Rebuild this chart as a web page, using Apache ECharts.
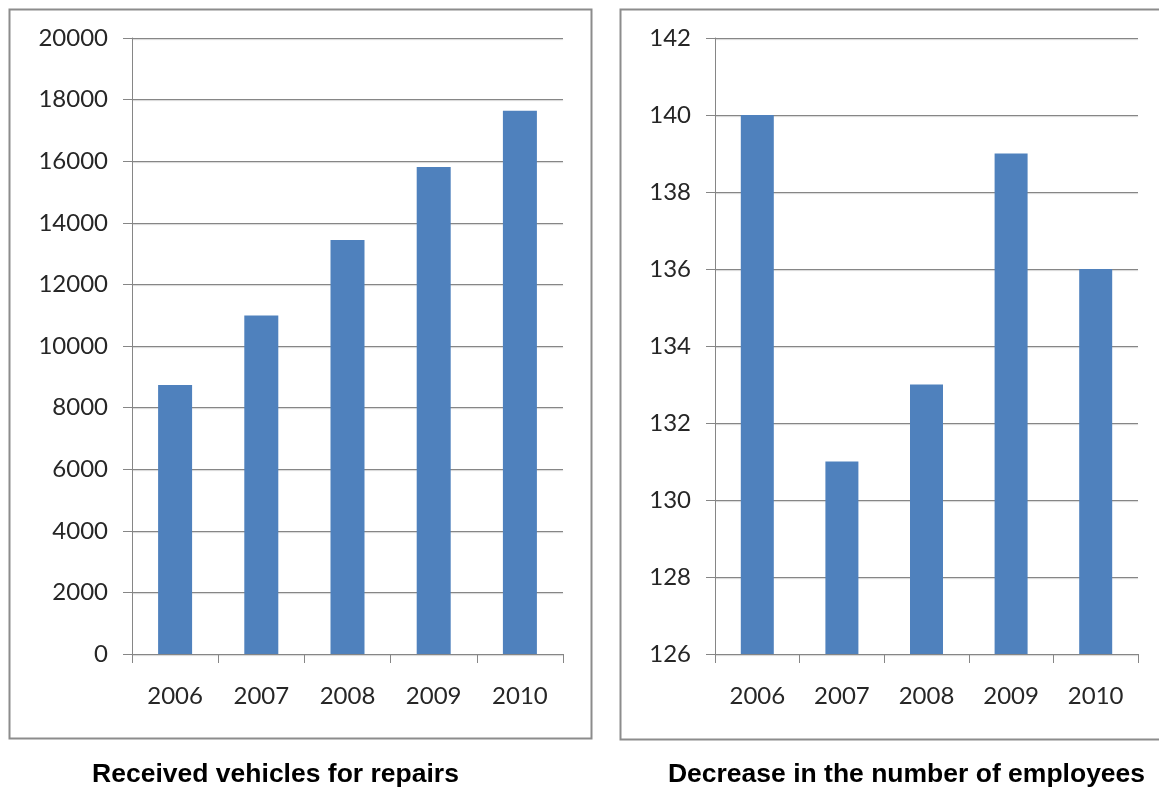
<!DOCTYPE html>
<html>
<head>
<meta charset="utf-8">
<script src="https://cdn.jsdelivr.net/npm/echarts@6/dist/echarts.min.js"></script>
<style>
  html, body { margin: 0; padding: 0; background: #ffffff; }
  #chart { width: 1159px; height: 789px; }
</style>
</head>
<body>
<div id="chart"></div>
<script>
// Yearly figures shown in the two panels
const years = ['2006', '2007', '2008', '2009', '2010'];
const vehiclesRepaired = [8730, 10990, 13440, 15810, 17640];
const employees = [140, 131, 133, 139, 136];

const leftTitle = 'Received vehicles for repairs';
const rightTitle = 'Decrease in the number of employees';

const barColor = '#4f81bd';
const lineColor = '#868686';
const labelFont = 'Lato, "Open Sans", sans-serif';

function xAxisFor(gridIndex) {
  return {
    type: 'category',
    gridIndex: gridIndex,
    data: years,
    boundaryGap: true,
    axisLine: { show: true, lineStyle: { color: lineColor, width: 1 } },
    axisTick: { show: true, length: 9, lineStyle: { color: lineColor } },
    axisLabel: { color: '#262626', fontFamily: labelFont, fontSize: 24, margin: 30 },
    splitLine: { show: false }
  };
}

function yAxisFor(gridIndex, min, max, interval) {
  return {
    type: 'value',
    gridIndex: gridIndex,
    min: min,
    max: max,
    interval: interval,
    axisLine: { show: true, lineStyle: { color: lineColor, width: 1 } },
    axisTick: { show: true, length: 9, lineStyle: { color: lineColor } },
    axisLabel: {
      color: '#262626',
      fontFamily: labelFont,
      fontSize: 24,
      margin: 24,
      formatter: function (v) { return String(v); }
    },
    splitLine: {
      show: true,
      lineStyle: { color: lineColor, width: 1, shadowColor: 'rgba(0,0,0,0.18)', shadowOffsetY: 1, shadowBlur: 1 }
    }
  };
}

const chart = echarts.init(document.getElementById('chart'), null, { renderer: 'canvas' });

chart.setOption({
  backgroundColor: '#ffffff',
  animation: false,
  grid: [
    { left: 132, right: 596, top: 38, bottom: 135 },
    { left: 715, right: 21, top: 38, bottom: 135 }
  ],
  xAxis: [xAxisFor(0), xAxisFor(1)],
  yAxis: [yAxisFor(0, 0, 20000, 2000), yAxisFor(1, 126, 142, 2)],
  series: [
    {
      type: 'bar',
      xAxisIndex: 0,
      yAxisIndex: 0,
      data: vehiclesRepaired,
      barWidth: 34,
      itemStyle: { color: barColor }
    },
    {
      type: 'bar',
      xAxisIndex: 1,
      yAxisIndex: 1,
      data: employees,
      barWidth: 33,
      itemStyle: { color: barColor }
    }
  ],
  graphic: [
    // panel frames
    {
      type: 'rect',
      shape: { x: 9.5, y: 9.5, width: 582, height: 729 },
      style: { fill: 'none', stroke: '#8c8c8c', lineWidth: 2 },
      z: -1
    },
    {
      type: 'rect',
      shape: { x: 620.5, y: 9.5, width: 545, height: 730 },
      style: { fill: 'none', stroke: '#8c8c8c', lineWidth: 2 },
      z: -1
    },
    // captions under each panel
    {
      type: 'text',
      x: 275.5,
      y: 775,
      style: {
        text: leftTitle,
        fill: '#000000',
        font: 'bold 26.5px "Liberation Sans", Arial, sans-serif',
        textAlign: 'center',
        textVerticalAlign: 'middle'
      }
    },
    {
      type: 'text',
      x: 906.5,
      y: 775,
      style: {
        text: rightTitle,
        fill: '#000000',
        font: 'bold 26.5px "Liberation Sans", Arial, sans-serif',
        textAlign: 'center',
        textVerticalAlign: 'middle'
      }
    }
  ]
});
</script>
</body>
</html>
